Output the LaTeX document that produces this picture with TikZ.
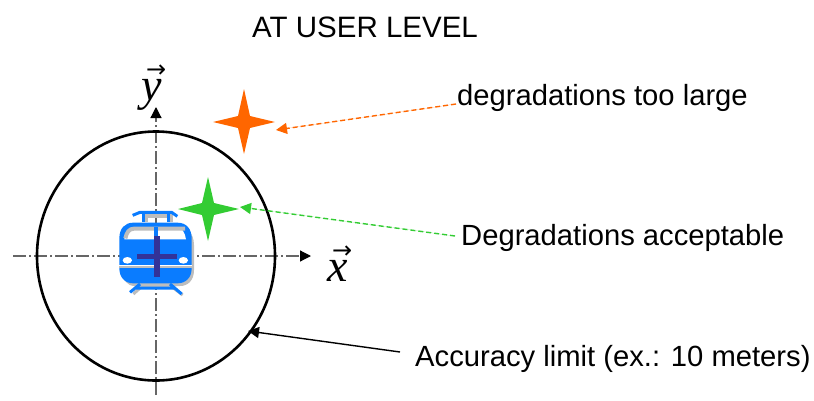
\documentclass[tikz,border=0pt]{standalone}
\usepackage{fontspec}
\setmainfont{Liberation Sans}
\newfontfamily\axisfont{Liberation Serif}
\newfontfamily\arrowfont{DejaVu Sans}
\usetikzlibrary{arrows.meta}
\definecolor{trainblue}{HTML}{0A7CFF}
\definecolor{crossblue}{HTML}{333399}
\definecolor{shadegray}{HTML}{BDBDBD}
\definecolor{orangestar}{HTML}{FF6600}
\definecolor{greenstar}{HTML}{33CC33}
\definecolor{axisgray}{HTML}{666666}
\tikzset{
  lbl/.style={inner sep=0pt,anchor=base west,font=\fontsize{29.2}{33}\selectfont},
  axisline/.style={draw=axisgray,line width=1.2pt,dash pattern=on 13pt off 3pt on 2pt off 3pt,-{Triangle[length=11pt,width=11pt,black]}},
  pointer/.style={-{Triangle[length=11pt,width=11pt]},line width=1.4pt},
  axislabel/.style={inner sep=0pt,anchor=base west,font=\fontsize{46}{50}\selectfont},
  limit/.style={draw=black,line width=2.6pt}
}
\newcommand{\axissym}[1]{\makebox[0pt][l]{\kern5pt\raisebox{23pt}{\arrowfont\fontsize{24}{24}\selectfont →}}{\axisfont\itshape #1}}
\begin{document}
\begin{tikzpicture}[x=1pt,y=-1pt]
\useasboundingbox (0,0) rectangle (814,400);
\coordinate (xstart) at (13,256);
\coordinate (xend) at (311,256);
\coordinate (ystart) at (156,395);
\coordinate (yend) at (156,107);
\draw[axisline] (xstart) -- (xend);
\draw[axisline] (ystart) -- (yend);
\draw[limit] (156,256) ellipse [x radius=119,y radius=124.5];
% train
\begin{scope}[shift={(90,170)},x=1/3*1pt,y=-1/3*1pt]
  % shadow
  \fill[shadegray] (98,205) .. controls (98,180) and (115,168) .. (135,168) -- (262,168) .. controls (285,168) and (312,185) .. (312,225) -- (312,300) .. controls (312,330) and (295,348) .. (270,348) -- (135,348) .. controls (110,348) and (98,330) .. (98,300) -- cycle;
  % body
  \fill[trainblue] (88,205) .. controls (88,175) and (105,158) .. (130,158) -- (262,158) .. controls (288,158) and (305,175) .. (305,205) -- (305,295) .. controls (305,322) and (288,340) .. (262,340) -- (130,340) .. controls (105,340) and (88,322) .. (88,295) -- cycle;
  % window
  \fill[white] (103,208) .. controls (106,185) and (115,173) .. (130,173) -- (262,173) .. controls (276,173) and (285,188) .. (288,208) -- cycle;
  \draw[shadegray,line width=4pt] (106,205) .. controls (110,186) and (118,176) .. (132,176) -- (285,176);
  \fill[trainblue] (192,172) rectangle (205,200);
  % lights and band
  \fill[white] (112,271) ellipse [x radius=14,y radius=10];
  \fill[white] (280,271) ellipse [x radius=14,y radius=10];
  \draw[white,line width=1.5pt] (88,288) -- (305,288);
  \draw[shadegray,line width=1.5pt] (88,291) -- (305,291);
  % pantograph
  \draw[shadegray,line width=4pt] (168,157) -- (168,138) -- (242,138) -- (242,157);
  \draw[trainblue,line width=3pt] (128,136) -- (150,127) -- (245,127) -- (262,139);
  \draw[trainblue,line width=3pt] (161,130) -- (161,157) (234,130) -- (234,157);
  % bogies
  \draw[shadegray,line width=3pt] (130,372) -- (155,350) -- (245,350) -- (278,375);
  \draw[trainblue,line width=3pt] (120,367) -- (150,342) (275,372) -- (240,342) (135,354) -- (258,354);
  % cross
  \fill[crossblue] (140,252) rectangle (262,268);
  \fill[crossblue] (192,198) rectangle (210,322);
\end{scope}
% stars
\coordinate (orangecentre) at (244,122);
\coordinate (greencentre) at (208,209);
\fill[orangestar] (213,122) -- (238,116) -- (244,89) -- (250,116) -- (275,122) -- (250,128) -- (244,154) -- (238,128) -- cycle;
\fill[greenstar] (178,209) -- (202,203) -- (208,177) -- (214,203) -- (239,209) -- (214,215) -- (208,241) -- (202,215) -- cycle;
% labels
\node[lbl,font=\fontsize{29.5}{33}\selectfont] (title) at (252,37) {AT USER LEVEL};
\node[lbl] (too) at (457,105) {degradations too large};
\node[lbl] (acc) at (461,245) {Degradations acceptable};
\node[lbl] (limitlbl) at (415,366) {Accuracy limit (ex.: 10 meters)};
\node[axislabel] (xlab) at (327,281) {\axissym{x}};
\node[axislabel] (ylab) at (141,100) {\axissym{y}};
\coordinate (orangetip) at (276,130);
\coordinate (greentip) at (240,207);
\coordinate (circletip) at (248,331);
\coordinate (tooend) at (456,104);
\coordinate (accend) at (455,236);
\coordinate (limend) at (400,352);
\draw[pointer,draw=orangestar,fill=orangestar,dash pattern=on 5pt off 3pt] (tooend) -- (orangetip);
\draw[pointer,draw=greenstar,fill=greenstar,dash pattern=on 5pt off 3pt] (accend) -- (greentip);
\draw[pointer,draw=black] (limend) -- (circletip);
\end{tikzpicture}
\end{document}
